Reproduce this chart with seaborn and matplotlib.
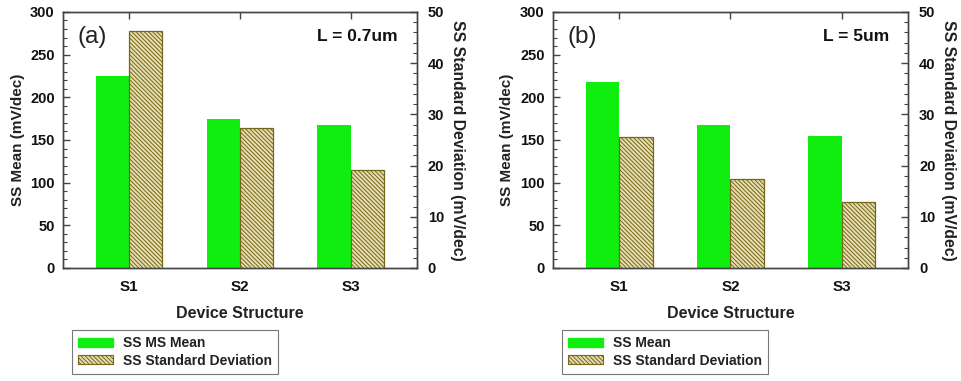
import matplotlib
matplotlib.use("Agg")
import matplotlib.pyplot as plt
from matplotlib.ticker import MultipleLocator
from matplotlib.patches import Patch
import seaborn as sns
import pandas as pd

sns.set_theme(style="white")
plt.rcParams['font.family'] = ['Liberation Sans', 'DejaVu Sans']
plt.rcParams['hatch.linewidth'] = 0.7
plt.rcParams['hatch.color'] = '#6b5d12'

structures = ["S1", "S2", "S3"]
mean_a = [225, 174, 168]
std_a = [46.2, 27.4, 19.1]
mean_b = [218, 168, 155]
std_b = [25.6, 17.4, 12.8]
panel_labels = ["(a)", "(b)"]
length_labels = ["L = 0.7um", "L = 5um"]
mean_names = ["SS MS Mean", "SS Mean"]
std_name = "SS Standard Deviation"

GREEN = '#10ee10'
FACE = '#e6deb0'
EDGE = '#75671a'
SPINE = '#444444'
HATCH = '\\\\\\\\\\\\\\\\'

fig = plt.figure(figsize=(9.61, 3.81), dpi=100)
positions = [[0.0656, 0.2966, 0.368, 0.672], [0.5754, 0.2966, 0.3694, 0.672]]

panels = [(mean_a, std_a), (mean_b, std_b)]
for i, (means, stds) in enumerate(panels):
    ax = fig.add_axes(positions[i])
    ax2 = ax.twinx()
    hue_order = [mean_names[i], std_name]
    df_m = pd.DataFrame({"struct": structures, "val": means, "series": mean_names[i]})
    df_s = pd.DataFrame({"struct": structures, "val": stds, "series": std_name})
    sns.barplot(data=df_m, x="struct", y="val", hue="series", hue_order=hue_order,
                palette=[GREEN, FACE], width=0.6, dodge=True, ax=ax, legend=False,
                saturation=1, linewidth=0)
    sns.barplot(data=df_s, x="struct", y="val", hue="series", hue_order=hue_order,
                palette=[GREEN, FACE], width=0.6, dodge=True, ax=ax2, legend=False,
                saturation=1)
    for p in ax2.patches:
        p.set_hatch(HATCH)
        p.set_edgecolor(EDGE)
        p.set_linewidth(0.9)
    ax.set_xlim(-0.595, 2.595)
    ax.set_ylim(0, 300)
    ax2.set_ylim(0, 50)
    ax.yaxis.set_major_locator(MultipleLocator(50))
    ax.yaxis.set_minor_locator(MultipleLocator(10))
    ax2.yaxis.set_major_locator(MultipleLocator(10))
    ax2.yaxis.set_minor_locator(MultipleLocator(2))
    for a in (ax, ax2):
        for s in a.spines.values():
            s.set_color(SPINE)
            s.set_linewidth(1.0)
    ax.tick_params(axis='y', which='major', direction='in', length=5, width=1,
                   color=SPINE, left=True, right=False, labelsize=10.5, pad=6)
    ax.tick_params(axis='y', which='minor', direction='in', length=3, width=0.8,
                   color=SPINE, left=True)
    ax2.tick_params(axis='y', which='major', direction='in', length=5, width=1,
                    color=SPINE, right=True, labelsize=10.5, pad=8)
    ax2.tick_params(axis='y', which='minor', direction='in', length=3, width=0.8,
                    color=SPINE, right=True)
    ax.tick_params(axis='x', which='major', direction='in', length=5, width=1,
                   color=SPINE, top=True, bottom=False, labelsize=11, pad=9)
    ax2.tick_params(axis='x', which='both', top=False, bottom=False)
    for lab in ax.get_xticklabels() + ax.get_yticklabels() + ax2.get_yticklabels():
        lab.set_fontweight('bold')
        lab.set_color('#111111')
    ax.set_xlabel("Device Structure", fontsize=11.5, fontweight='bold', color='#222222', labelpad=8)
    ax.set_ylabel("SS Mean (mV/dec)", fontsize=11, fontweight='bold', color='#222222', labelpad=4)
    ax2.set_ylabel("SS Standard Deviation (mV/dec)", fontsize=11.3, fontweight='bold',
                   color='#222222', rotation=270, labelpad=15)
    ax.text(0.04, 0.945, panel_labels[i], transform=ax.transAxes, fontsize=17.5,
            va='top', ha='left', color='#222222')
    ax.text(0.946, 0.935, length_labels[i], transform=ax.transAxes, fontsize=12.5,
            fontweight='bold', va='top', ha='right', color='#111111')
    hs = [Patch(facecolor=GREEN, edgecolor=GREEN),
          Patch(facecolor=FACE, edgecolor=EDGE, hatch=HATCH, linewidth=0.8)]
    leg = ax.legend(hs, [mean_names[i], std_name], loc='upper left',
                    bbox_to_anchor=(0.025, -0.242), borderaxespad=0, frameon=True,
                    fancybox=False, edgecolor='#777777', framealpha=1,
                    prop={'weight': 'bold', 'size': 10}, handlelength=2.5,
                    handleheight=0.6, handletextpad=0.7, labelspacing=0.25,
                    borderpad=0.45)
    leg.get_frame().set_linewidth(0.8)
    for t in leg.get_texts():
        t.set_color('#222222')

fig.savefig("out.png", dpi=100)
